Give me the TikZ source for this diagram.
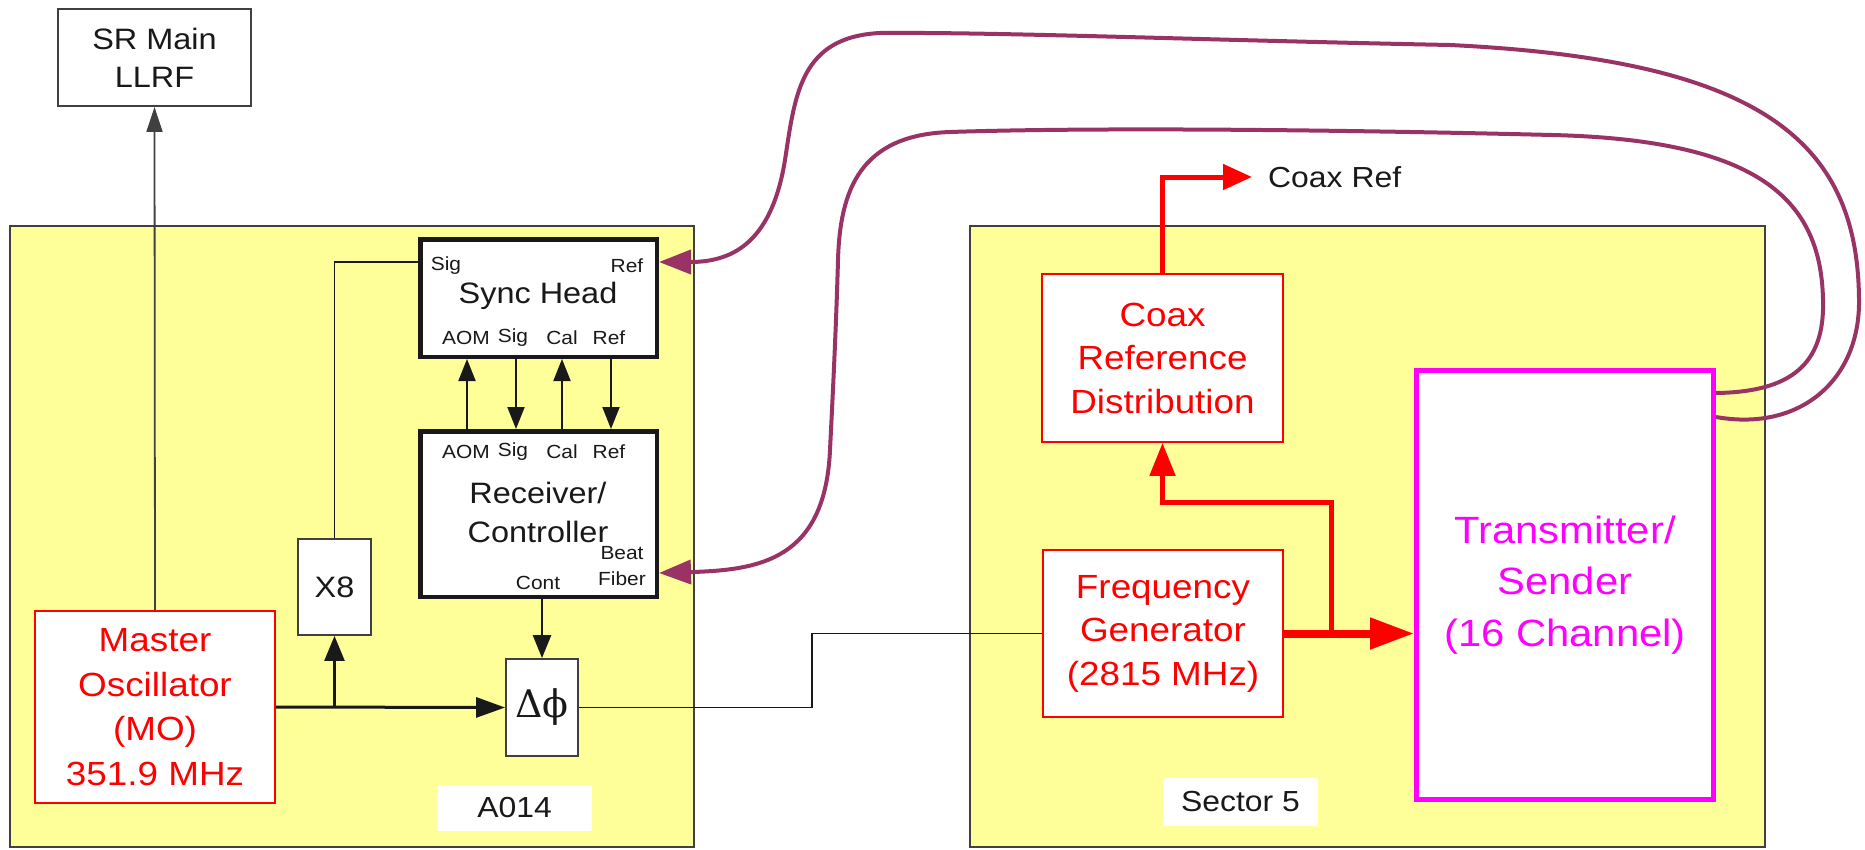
\documentclass[tikz,border=0pt]{standalone}
\usepackage{fontspec}
\setmainfont{Liberation Sans}[FakeStretch=1.1]
\newfontfamily\greekf{DejaVu Serif}
\usetikzlibrary{arrows.meta,calc}
\definecolor{yel}{RGB}{255,255,153}
\definecolor{plum}{RGB}{153,51,102}
\definecolor{edge}{RGB}{64,64,64}
\definecolor{ink}{RGB}{25,25,25}
\definecolor{mag}{RGB}{255,0,255}
\newcommand\fsz[2]{\fontsize{#1}{#2}\selectfont}
\begin{document}
\begin{tikzpicture}[x=1pt,y=-1pt,
  every node/.style={inner sep=0pt},
  zone/.style={draw=edge,line width=1.5pt,fill=yel},
  blk/.style={draw=edge,line width=1.8pt,fill=white,text=ink,align=center},
  thk/.style={draw=ink,line width=4.5pt,fill=white},
  redbox/.style={draw=red,line width=1.8pt,fill=white,text=red,align=center},
  tag/.style={fill=white,text=ink},
  small/.style={text=ink,font=\fsz{19}{21}},
  wire/.style={draw=ink,line width=1.5pt},
  sigarr/.style={draw=ink,line width=2pt,-{Triangle[length=22pt,width=17pt]}},
  fibre/.style={draw=plum,line width=4pt,-{Triangle[length=32pt,width=24pt]}},
  ]
\useasboundingbox (0,0) rectangle (1865,849);

% zones
\node[zone,minimum width=684pt,minimum height=621pt] (zoneA) at (352,536.5) {};
\node[zone,minimum width=795pt,minimum height=621pt] (zoneB) at (1367.5,536.5) {};

% A014 side
\node[blk,minimum width=193pt,minimum height=97pt,font=\fsz{29.5}{38}] (sr) at (154.5,57.5) {SR Main\\LLRF};
\node[redbox,minimum width=240pt,minimum height=192pt,font=\fsz{33.5}{44.5}] (mo) at (155,707) {Master\\Oscillator\\(MO)\\351.9 MHz};
\node[blk,minimum width=73pt,minimum height=96pt,font=\fsz{29.5}{34}] (x8) at (334.5,587) {X8};
\node[blk,minimum width=72pt,minimum height=97pt] (dphi) at (542,707.5) {\greekf\fsz{38}{40}Δϕ};
\node[thk,minimum width=236.5pt,minimum height=117.5pt] (sh) at (538.5,298) {};
\node[thk,minimum width=236.5pt,minimum height=165.5pt] (rc) at (538.5,514) {};
\node[tag,minimum width=155pt,minimum height=46pt,font=\fsz{29}{30}] (a014) at (514.5,808) {A014};

% Sync head texts
\node[text=ink,font=\fsz{29.5}{30}] (shname) at (538,296) {Sync Head};
\node[small] (lshsig) at (446,266) {Sig};
\node[small] (lshref) at (627,266) {Ref};
\node[small] (lshaom) at (466,338) {AOM};
\node[small] (lshsig2) at (513,338) {Sig};
\node[small] (lshcal) at (562,338) {Cal};
\node[small] (lshref2) at (609,338) {Ref};
% Receiver texts
\node[text=ink,font=\fsz{29.5}{39},align=center] (rcname) at (538,512) {Receiver/\\Controller};
\node[small] (lrcaom) at (466,452) {AOM};
\node[small] (lrcsig) at (513,452) {Sig};
\node[small] (lrccal) at (562,452) {Cal};
\node[small] (lrcref) at (609,452) {Ref};
\node[small] (lbeat) at (622,553) {Beat};
\node[small] (lfiber) at (622,579) {Fiber};
\node[small] (lcont) at (538,583) {Cont};

% Sector 5 side
\node[redbox,minimum width=241pt,minimum height=168pt,font=\fsz{33.5}{43.5}] (crd) at (1162.5,358) {Coax\\Reference\\Distribution};
\node[redbox,minimum width=240pt,minimum height=167pt,font=\fsz{33.5}{43.5}] (fg) at (1163,633.5) {Frequency\\Generator\\(2815 MHz)};
\node[draw=mag,line width=5pt,fill=white,text=mag,align=center,minimum width=297pt,minimum height=429pt,font=\fsz{38}{51.5}] (ts) at (1565,585) {Transmitter/\\Sender\\(16 Channel)};
\node[tag,minimum width=155pt,minimum height=48pt,font=\fsz{29}{30}] (s5) at (1240.5,802) {Sector 5};
\node[text=ink,anchor=west,inner xsep=16pt,font=\fsz{29}{30}] (coaxref) at (1252,177) {Coax Ref};

% coordinates
\coordinate (shsigin) at ($(sh.west)+(0,-36)$);
\coordinate (shrefin) at ($(sh.east)+(0,-36)$);
\coordinate (rcbeat) at ($(rc.east)+(0,59)$);
\coordinate (tso) at ($(ts.east)+(0,-168)$);
\coordinate (tsi) at ($(ts.east)+(0,-192)$);
\coordinate (jog) at (812,670);
\coordinate (br) at (1331,502);

% black connectors
\draw[draw=edge,line width=1.8pt,-{Triangle[length=25pt,width=16pt]}] (mo.north) -- (sr.south);
\draw[wire] (shsigin) -| (x8.north);
\draw[draw=ink,line width=3pt,-{Triangle[length=29pt,width=20pt]}] (mo.east) -- (dphi.west);
\draw[draw=ink,line width=2.5pt,-{Triangle[length=25pt,width=20pt]}] (x8.south |- mo.east) -- (x8.south);
\draw[sigarr] ($(rc.north)+(-71.5,0)$) -- ($(sh.south)+(-71.5,0)$);
\draw[sigarr] ($(sh.south)+(-22.5,0)$) -- ($(rc.north)+(-22.5,0)$);
\draw[sigarr] ($(rc.north)+(23.5,0)$) -- ($(sh.south)+(23.5,0)$);
\draw[sigarr] ($(sh.south)+(72.5,0)$) -- ($(rc.north)+(72.5,0)$);
\draw[draw=ink,line width=2.5pt,-{Triangle[length=23pt,width=18pt]}] (dphi.north |- rc.south) -- (dphi.north);
\draw[wire] (dphi.east) -| (jog) |- (fg.west);

% red connectors
\draw[red,line width=5pt,-{Triangle[length=29pt,width=25pt]}] (crd.north) |- (coaxref.west);
\draw[red,line width=8pt,-{Triangle[length=44pt,width=30pt]}] (fg.east) -- (fg.east -| ts.west);
\draw[red,line width=5pt,-{Triangle[length=33pt,width=25pt]}] (fg.east -| br) -- (br) -| (crd.south);

% fibres
\draw[fibre] (tso) .. controls (1800,432) and (1860,380) .. (1859,300)
  .. controls (1858,140) and (1760,60) .. (1450,45)
  .. controls (1200,40) and (1000,32) .. (880,33)
  .. controls (800,37) and (795,95) .. (785,160)
  .. controls (772,240) and (735,262) .. (shrefin);
\draw[fibre] (tsi) .. controls (1790,392) and (1825,365) .. (1823,300)
  .. controls (1821,200) and (1760,140) .. (1552,135)
  .. controls (1350,130) and (1100,127) .. (950,132)
  .. controls (860,135) and (840,190) .. (838,260)
  .. controls (836,330) and (833,390) .. (830,450)
  .. controls (825,560) and (760,570) .. (rcbeat);
\end{tikzpicture}
\end{document}
